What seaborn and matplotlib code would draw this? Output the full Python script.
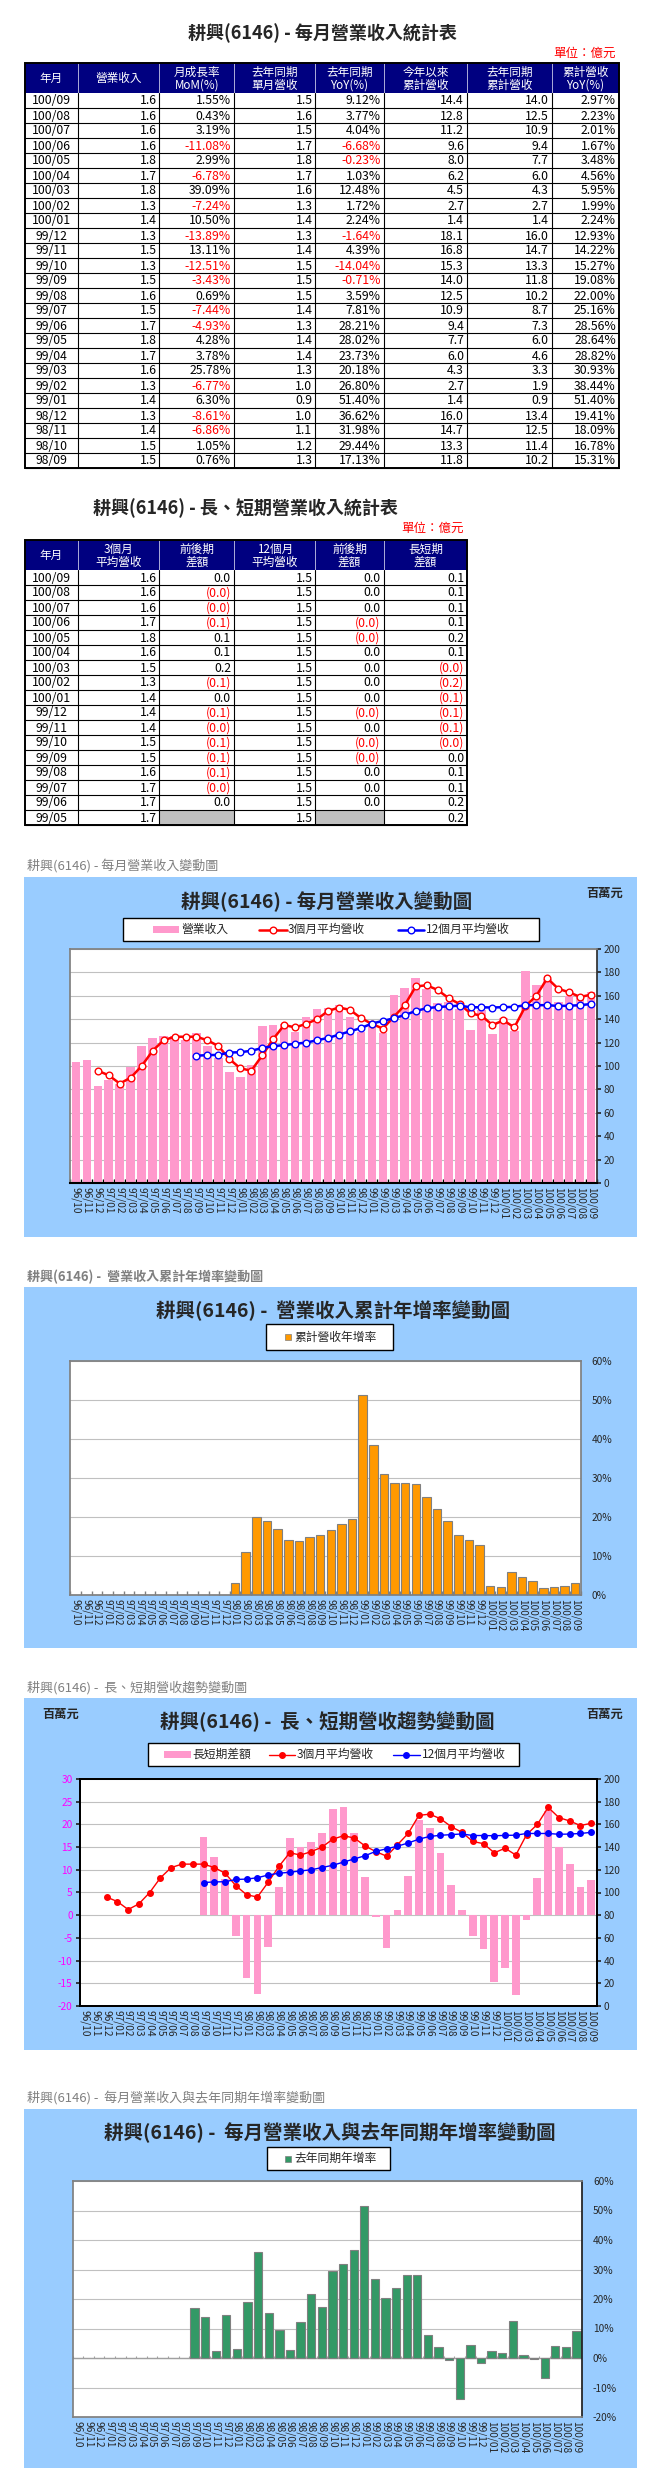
import matplotlib
matplotlib.use('Agg')
import matplotlib.pyplot as plt
import seaborn as sns
import numpy as np
import pandas as pd
from matplotlib.patches import Rectangle

# ---------------- DATA ----------------
months = ['96/10', '96/11', '96/12',
          '97/01', '97/02', '97/03', '97/04', '97/05', '97/06', '97/07', '97/08', '97/09', '97/10', '97/11', '97/12',
          '98/01', '98/02', '98/03', '98/04', '98/05', '98/06', '98/07', '98/08', '98/09', '98/10', '98/11', '98/12',
          '99/01', '99/02', '99/03', '99/04', '99/05', '99/06', '99/07', '99/08', '99/09', '99/10', '99/11', '99/12',
          '100/01', '100/02', '100/03', '100/04', '100/05', '100/06', '100/07', '100/08', '100/09']

# monthly revenue (million NT$)
revenue = [103, 105, 83,
           88, 85, 99, 117, 124, 126, 126, 122, 128, 117, 107, 95,
           91, 101, 134, 135, 136, 129, 142, 149, 150, 152, 142, 129,
           138, 128, 161, 167, 175, 166, 154, 155, 149, 131, 148, 127,
           141, 130, 181, 169, 174, 155, 160, 161, 163]

avg3 = [None, None, 96,
        92, 85, 90, 100, 113, 122, 125, 125, 125, 122, 117, 106,
        98, 96, 109, 123, 135, 133, 136, 140, 147, 150, 148, 141,
        136, 132, 142, 152, 168, 169, 165, 158, 153, 145, 143, 135,
        139, 133, 151, 160, 175, 166, 163, 159, 161]

avg12 = [None, None, None,
         None, None, None, None, None, None, None, None, 108.8, 109.3, 109.5, 111.5,
         111.8, 113, 115.4, 117, 117.8, 119, 120, 122, 124, 126.8, 129.6, 132.4,
         136.3, 138.5, 140.8, 143.6, 147, 149.4, 150.4, 151, 151.6, 150.2, 150.2, 150,
         150.3, 150.5, 152, 152, 152, 151.3, 151.5, 152, 153]

ls_diff = [None, None, None,
           None, None, None, None, None, None, None, None, 17.2, 12.8, 8.0, -4.6,
           -13.8, -17.4, -7.0, 6.2, 17.0, 15.0, 16.1, 18.2, 23.4, 23.8, 18.2, 8.4,
           -0.4, -7.2, 1.1, 8.6, 21.0, 19.3, 13.8, 6.6, 1.1, -4.6, -7.4, -14.7,
           -11.6, -17.5, -1.1, 8.2, 23.0, 15.0, 11.3, 6.2, 7.7]

cum_yoy = [None, None, None,
           None, None, None, None, None, None, None, None, None, None, None, None,
           3.2, 10.9, 20.1, 18.9, 16.9, 14.0, 13.8, 15.0, 15.31, 16.78, 18.09, 19.41,
           51.40, 38.44, 30.93, 28.82, 28.64, 28.56, 25.16, 22.00, 19.08, 15.27, 14.22, 12.93,
           2.24, 1.99, 5.95, 4.56, 3.48, 1.67, 2.01, 2.23, 2.97]

yoy = [None, None, None,
       None, None, None, None, None, None, None, None, 17.0, 14.0, 2.5, 14.7,
       3.2, 18.9, 36.1, 15.3, 9.5, 2.7, 12.3, 21.8, 17.13, 29.44, 31.98, 36.62,
       51.40, 26.80, 20.18, 23.73, 28.02, 28.21, 7.81, 3.59, -0.71, -14.04, 4.39, -1.64,
       2.24, 1.72, 12.48, 1.03, -0.23, -6.68, 4.04, 3.77, 9.12]

# table 1 (億元)
t1_month = ['100/09', '100/08', '100/07', '100/06', '100/05', '100/04', '100/03', '100/02', '100/01',
            '99/12', '99/11', '99/10', '99/09', '99/08', '99/07', '99/06', '99/05', '99/04', '99/03',
            '99/02', '99/01', '98/12', '98/11', '98/10', '98/09']
t1_rev = [1.6, 1.6, 1.6, 1.6, 1.8, 1.7, 1.8, 1.3, 1.4, 1.3, 1.5, 1.3, 1.5, 1.6, 1.5, 1.7, 1.8, 1.7, 1.6,
          1.3, 1.4, 1.3, 1.4, 1.5, 1.5]
t1_mom = [1.55, 0.43, 3.19, -11.08, 2.99, -6.78, 39.09, -7.24, 10.50, -13.89, 13.11, -12.51, -3.43,
          0.69, -7.44, -4.93, 4.28, 3.78, 25.78, -6.77, 6.30, -8.61, -6.86, 1.05, 0.76]
t1_ly = [1.5, 1.6, 1.5, 1.7, 1.8, 1.7, 1.6, 1.3, 1.4, 1.3, 1.4, 1.5, 1.5, 1.5, 1.4, 1.3, 1.4, 1.4, 1.3,
         1.0, 0.9, 1.0, 1.1, 1.2, 1.3]
t1_yoy = [9.12, 3.77, 4.04, -6.68, -0.23, 1.03, 12.48, 1.72, 2.24, -1.64, 4.39, -14.04, -0.71, 3.59,
          7.81, 28.21, 28.02, 23.73, 20.18, 26.80, 51.40, 36.62, 31.98, 29.44, 17.13]
t1_ytd = [14.4, 12.8, 11.2, 9.6, 8.0, 6.2, 4.5, 2.7, 1.4, 18.1, 16.8, 15.3, 14.0, 12.5, 10.9, 9.4, 7.7,
          6.0, 4.3, 2.7, 1.4, 16.0, 14.7, 13.3, 11.8]
t1_lyytd = [14.0, 12.5, 10.9, 9.4, 7.7, 6.0, 4.3, 2.7, 1.4, 16.0, 14.7, 13.3, 11.8, 10.2, 8.7, 7.3, 6.0,
            4.6, 3.3, 1.9, 0.9, 13.4, 12.5, 11.4, 10.2]
t1_ytdyoy = [2.97, 2.23, 2.01, 1.67, 3.48, 4.56, 5.95, 1.99, 2.24, 12.93, 14.22, 15.27, 19.08, 22.00,
             25.16, 28.56, 28.64, 28.82, 30.93, 38.44, 51.40, 19.41, 18.09, 16.78, 15.31]

# table 2 (億元)
t2_month = ['100/09', '100/08', '100/07', '100/06', '100/05', '100/04', '100/03', '100/02', '100/01',
            '99/12', '99/11', '99/10', '99/09', '99/08', '99/07', '99/06', '99/05']
t2_avg3 = [1.6, 1.6, 1.6, 1.7, 1.8, 1.6, 1.5, 1.3, 1.4, 1.4, 1.4, 1.5, 1.5, 1.6, 1.7, 1.7, 1.7]
t2_d3 = [0.0, -0.01, -0.01, -0.1, 0.1, 0.1, 0.2, -0.1, 0.0, -0.1, -0.01, -0.1, -0.1, -0.1, -0.01, 0.0, None]
t2_avg12 = [1.5] * 17
t2_d12 = [0.0, 0.0, 0.0, -0.01, -0.01, 0.0, 0.0, 0.0, 0.0, -0.01, 0.0, -0.01, -0.01, 0.0, 0.0, 0.0, None]
t2_ls = [0.1, 0.1, 0.1, 0.1, 0.2, 0.1, -0.01, -0.2, -0.1, -0.1, -0.1, -0.01, 0.0, 0.1, 0.1, 0.2, 0.2]

# ---------------- STYLE ----------------
sns.set_theme(style='ticks')
plt.rcParams['font.family'] = ['Noto Sans CJK TC', 'DejaVu Sans']
plt.rcParams['axes.unicode_minus'] = False

W, H = 661, 2480
fig = plt.figure(figsize=(W / 100, H / 100), dpi=100)
fig.patch.set_facecolor('white')
bg = fig.add_axes([0, 0, 1, 1])
bg.set_xlim(0, W)
bg.set_ylim(H, 0)
bg.axis('off')
bg.set_zorder(0)

NAVY = '#000080'
RED = '#FF0000'
BLUE = '#0000FF'
PINK = '#FF99CC'
ORANGE = '#FF9900'
GREEN = '#339966'
SKY = '#99CCFF'
GRID = '#C0C0C0'
GRAY = '#808080'
BOX_X0, BOX_X1 = 24, 637


def frect(x0, y0, x1, y1):
    return [x0 / W, 1 - y1 / H, (x1 - x0) / W, (y1 - y0) / H]


def draw_table(cols, ytop, hh, rh, headers, rows, colors):
    n = len(rows)
    x0, x1 = cols[0], cols[-1]
    bg.add_patch(Rectangle((x0, ytop), x1 - x0, hh, facecolor=NAVY, edgecolor='none', zorder=1))
    for i, h in enumerate(headers):
        cx = (cols[i] + cols[i + 1]) / 2
        bg.text(cx, ytop + hh / 2 + 0.5, h, color='white', fontsize=8.4, ha='center', va='center',
                linespacing=1.0, zorder=3)
        if i > 0:
            bg.plot([cols[i], cols[i]], [ytop, ytop + hh], color='#C8C8E8', lw=0.6, zorder=2)
    for r in range(n):
        y = ytop + hh + r * rh
        for c in range(len(cols) - 1):
            txt, col = rows[r][c], colors[r][c]
            if txt is None:
                bg.add_patch(Rectangle((cols[c], y), cols[c + 1] - cols[c], rh, facecolor='#C0C0C0',
                                       edgecolor='none', zorder=1))
                continue
            if c == 0:
                bg.text((cols[0] + cols[1]) / 2, y + rh / 2 + 0.5, txt, fontsize=8.8, ha='center',
                        va='center', color=col, zorder=3)
            else:
                bg.text(cols[c + 1] - 3, y + rh / 2 + 0.5, txt, fontsize=8.8, ha='right',
                        va='center', color=col, zorder=3)
        bg.plot([x0, x1], [y + rh, y + rh], color='black', lw=0.8, zorder=2)
    ybot = ytop + hh + n * rh
    for c in cols[1:-1]:
        bg.plot([c, c], [ytop + hh, ybot], color='black', lw=0.8, zorder=2)
    bg.add_patch(Rectangle((x0, ytop), x1 - x0, ybot - ytop, facecolor='none', edgecolor='black',
                           lw=1.4, zorder=4))


# ---------------- TABLE 1 ----------------
bg.text(322.5, 33, '耕興(6146) - 每月營業收入統計表', fontsize=13, fontweight='bold', ha='center', va='center')
bg.text(615.5, 53, '單位：億元', fontsize=9, color=RED, ha='right', va='center')
t1_headers = ['年月', '營業收入', '月成長率\nMoM(%)', '去年同期\n單月營收', '去年同期\nYoY(%)',
              '今年以來\n累計營收', '去年同期\n累計營收', '累計營收\nYoY(%)']
rows1, cols1 = [], []
for i in range(len(t1_month)):
    rows1.append([t1_month[i], f'{t1_rev[i]:.1f}', f'{t1_mom[i]:.2f}%', f'{t1_ly[i]:.1f}',
                  f'{t1_yoy[i]:.2f}%', f'{t1_ytd[i]:.1f}', f'{t1_lyytd[i]:.1f}', f'{t1_ytdyoy[i]:.2f}%'])
    cols1.append(['black', 'black', RED if t1_mom[i] < 0 else 'black', 'black',
                  RED if t1_yoy[i] < 0 else 'black', 'black', 'black', 'black'])
T_COLS = [24.5, 78.4, 159.4, 234.0, 315.4, 383.7, 467.1, 551.5, 618.9]
draw_table(T_COLS, 63, 30, 15, t1_headers, rows1, cols1)

# ---------------- TABLE 2 ----------------
bg.text(245.6, 508, '耕興(6146) - 長、短期營業收入統計表', fontsize=13, fontweight='bold', ha='center', va='center')
bg.text(463.8, 528, '單位：億元', fontsize=9, color=RED, ha='right', va='center')
t2_headers = ['年月', '3個月\n平均營收', '前後期\n差額', '12個月\n平均營收', '前後期\n差額', '長短期\n差額']


def fmt_paren(v):
    if v is None:
        return None
    return f'({abs(v):.1f})' if v < 0 else f'{v:.1f}'


rows2, cols2 = [], []
for i in range(len(t2_month)):
    rows2.append([t2_month[i], f'{t2_avg3[i]:.1f}', fmt_paren(t2_d3[i]), f'{t2_avg12[i]:.1f}',
                  fmt_paren(t2_d12[i]), fmt_paren(t2_ls[i])])
    cols2.append(['black', 'black',
                  RED if (t2_d3[i] is not None and t2_d3[i] < 0) else 'black', 'black',
                  RED if (t2_d12[i] is not None and t2_d12[i] < 0) else 'black',
                  RED if t2_ls[i] < 0 else 'black'])
draw_table(T_COLS[:7], 540, 30, 15, t2_headers, rows2, cols2)

idx = np.arange(len(months))
edges = np.arange(len(months) + 1) - 0.5


def arr(lst):
    return np.array([np.nan if v is None else v for v in lst], dtype=float)


def chart_frame(ytop, ybot, caption, cap_y, title, title_x, title_y, bold_cap=False):
    bg.text(27.4, cap_y, caption, fontsize=9.4, color=GRAY, ha='left', va='center',
            fontweight='bold' if bold_cap else 'normal')
    bg.add_patch(Rectangle((BOX_X0, ytop), BOX_X1 - BOX_X0, ybot - ytop, facecolor=SKY, edgecolor='none',
                           zorder=0))
    bg.text(title_x, title_y, title, fontsize=14, fontweight='bold', ha='center', va='center')


def style_xaxis(ax):
    ax.set_xlim(-0.5, len(months) - 0.5)
    ax.set_xticks(idx)
    ax.set_xticklabels(months, rotation=-90, fontsize=7.3, ha='center', va='top')
    ax.set_xticks(edges, minor=True)
    ax.tick_params(axis='x', which='major', length=0, pad=3, bottom=True, labelbottom=True)
    ax.tick_params(axis='x', which='minor', direction='in', length=3, color='black', bottom=True)
    ax.set_xlabel('')
    ax.set_ylabel('')


def legend_box(x0, y0, x1, y1):
    bg.add_patch(Rectangle((x0, y0), x1 - x0, y1 - y0, facecolor='white', edgecolor='black', lw=1.0,
                           zorder=5))


def legend_text(x, y, s):
    bg.text(x, y, s, fontsize=8.5, ha='left', va='center', zorder=6)


def legend_patch(x0, x1, y, color):
    bg.add_patch(Rectangle((x0, y - 3.5), x1 - x0, 7, facecolor=color, edgecolor='none', zorder=6))


def legend_line(x0, x1, y, color, lw, ms, face):
    bg.plot([x0, x1], [y, y], color=color, lw=lw, zorder=6)
    bg.plot([(x0 + x1) / 2], [y], ls='none', marker='o', ms=ms, mfc=face, mec=color, mew=1, zorder=7)


def legend_square(x, y, color):
    bg.plot([x], [y], ls='none', marker='s', ms=5, mfc=color, mec=GRAY, mew=0.5, zorder=6)


# ---------------- CHART 1 ----------------
chart_frame(877, 1237, '耕興(6146) - 每月營業收入變動圖', 866,
            '耕興(6146) - 每月營業收入變動圖', 326.7, 902)
bg.text(604.6, 893, '百萬元', fontsize=8.8, fontweight='bold', ha='center', va='center')
ax1 = fig.add_axes(frect(70.4, 949, 596.6, 1183))
ax1.set_zorder(2)
df1 = pd.DataFrame({'month': months, 'rev': revenue})
sns.barplot(data=df1, x='month', y='rev', order=months, color=PINK, saturation=1, width=0.78,
            errorbar=None, linewidth=0, ax=ax1)
ax1.plot(idx, arr(avg3), color=RED, lw=1.8, marker='o', ms=4.8, mfc='white', mec=RED, mew=1, zorder=4)
ax1.plot(idx, arr(avg12), color=BLUE, lw=1.8, marker='o', ms=4.8, mfc='white', mec=BLUE, mew=1, zorder=4)
ax1.set_ylim(0, 200)
ax1.set_yticks(range(0, 201, 20))
ax1.yaxis.tick_right()
ax1.tick_params(axis='y', labelsize=7.3, length=3, pad=2, direction='out')
ax1.grid(axis='y', color=GRID, lw=0.8)
ax1.set_axisbelow(True)
style_xaxis(ax1)
for s in ['left', 'top']:
    ax1.spines[s].set_color(GRAY)
ax1.spines['right'].set_color('#303030')
ax1.spines['bottom'].set_color('black')
ax1.spines['bottom'].set_linewidth(1.5)
legend_box(123, 918, 539, 941)
legend_patch(153, 179, 929.5, PINK)
legend_text(181, 929.5, '營業收入')
legend_line(259, 287, 929.5, RED, 1.8, 4.8, 'white')
legend_text(288, 929.5, '3個月平均營收')
legend_line(397.6, 423.7, 929.5, BLUE, 1.8, 4.8, 'white')
legend_text(426, 929.5, '12個月平均營收')

# ---------------- CHART 2 ----------------
chart_frame(1287, 1648, '耕興(6146) -  營業收入累計年增率變動圖', 1277,
            '耕興(6146) -  營業收入累計年增率變動圖', 333, 1311, bold_cap=True)
ax2 = fig.add_axes(frect(70.4, 1361, 580.5, 1595))
ax2.set_zorder(2)
df2 = pd.DataFrame({'month': months, 'v': arr(cum_yoy)})
sns.barplot(data=df2, x='month', y='v', order=months, color=ORANGE, saturation=1, width=0.8,
            errorbar=None, edgecolor=GRAY, linewidth=0.8, ax=ax2)
ax2.set_ylim(0, 60)
ax2.set_yticks(range(0, 61, 10))
ax2.set_yticklabels([f'{v}%' for v in range(0, 61, 10)])
ax2.yaxis.tick_right()
ax2.tick_params(axis='y', labelsize=7.3, length=0, pad=8)
ax2.grid(axis='y', color=GRID, lw=0.8)
ax2.set_axisbelow(True)
style_xaxis(ax2)
ax2.tick_params(axis='x', which='minor', color=GRAY)
for s in ['left', 'top', 'right', 'bottom']:
    ax2.spines[s].set_color(GRAY)
legend_box(266, 1324, 393, 1350)
legend_square(287.5, 1337, ORANGE)
legend_text(294, 1337, '累計營收年增率')

# ---------------- CHART 3 ----------------
chart_frame(1698, 2050, '耕興(6146) -  長、短期營收趨勢變動圖', 1688,
            '耕興(6146) -  長、短期營收趨勢變動圖', 327.8, 1722)
bg.text(61, 1714, '百萬元', fontsize=8.8, fontweight='bold', ha='center', va='center')
bg.text(604.6, 1714, '百萬元', fontsize=8.8, fontweight='bold', ha='center', va='center')
ax3 = fig.add_axes(frect(79.7, 1779, 596.6, 2006))
ax3.set_zorder(2)
df3 = pd.DataFrame({'month': months, 'v': arr(ls_diff)})
sns.barplot(data=df3, x='month', y='v', order=months, color=PINK, saturation=1, width=0.72,
            errorbar=None, linewidth=0, ax=ax3)
ax3.set_ylim(-20, 30)
ax3.set_yticks(range(-20, 31, 5))
ax3.tick_params(axis='y', labelsize=7.3, labelcolor='#FF00FF', length=3, pad=2, left=True)
ax3.grid(axis='y', color=GRID, lw=0.8)
ax3.set_axisbelow(True)
style_xaxis(ax3)
ax3.tick_params(axis='x', which='minor', length=0)
ax3r = ax3.twinx()
ax3r.plot(idx, arr(avg3), color=RED, lw=1.0, marker='o', ms=4, mfc=RED, mec=RED, zorder=4)
ax3r.plot(idx, arr(avg12), color=BLUE, lw=1.0, marker='o', ms=4, mfc=BLUE, mec=BLUE, zorder=4)
ax3r.set_ylim(0, 200)
ax3r.set_yticks(range(0, 201, 20))
ax3r.tick_params(axis='y', labelsize=7.3, length=3, pad=2, right=True)
ax3r.grid(False)
ax3r.set_xlim(-0.5, len(months) - 0.5)
for a in (ax3, ax3r):
    for s in ['left', 'top', 'right', 'bottom']:
        a.spines[s].set_color('black')
        a.spines[s].set_linewidth(1.4)
legend_box(148.4, 1743, 519.4, 1766)
legend_patch(164.4, 190.6, 1754.5, PINK)
legend_text(192.7, 1754.5, '長短期差額')
legend_line(269, 295, 1754.5, RED, 1.0, 4, RED)
legend_text(297, 1754.5, '3個月平均營收')
legend_line(393, 419.5, 1754.5, BLUE, 1.0, 4, BLUE)
legend_text(421.6, 1754.5, '12個月平均營收')

# ---------------- CHART 4 ----------------
chart_frame(2109, 2468, '耕興(6146) -  每月營業收入與去年同期年增率變動圖', 2098,
            '耕興(6146) -  每月營業收入與去年同期年增率變動圖', 329.9, 2133)
ax4 = fig.add_axes(frect(72.5, 2181, 581.8, 2417))
ax4.set_zorder(2)
df4 = pd.DataFrame({'month': months, 'v': arr(yoy)})
sns.barplot(data=df4, x='month', y='v', order=months, color=GREEN, saturation=1, width=0.78,
            errorbar=None, edgecolor=GRAY, linewidth=0.8, ax=ax4)
ax4.set_ylim(-20, 60)
ax4.set_yticks(range(-20, 61, 10))
ax4.set_yticklabels([f'{v}%' for v in range(-20, 61, 10)])
ax4.yaxis.tick_right()
ax4.tick_params(axis='y', labelsize=7.3, length=0, pad=8)
ax4.grid(axis='y', color=GRID, lw=0.8)
ax4.set_axisbelow(True)
ax4.axhline(0, color='#A0A0A0', lw=1, zorder=0.8)
ax4.vlines(edges, 0, 0.8, color='#A0A0A0', lw=0.8, zorder=0.7)
style_xaxis(ax4)
ax4.tick_params(axis='x', which='minor', length=0)
for s in ['left', 'top', 'bottom']:
    ax4.spines[s].set_color(GRAY)
ax4.spines['right'].set_color('#202020')
legend_box(267.3, 2147, 390.4, 2170)
legend_square(288, 2158.5, GREEN)
legend_text(294, 2158.5, '去年同期年增率')

fig.savefig('out.png', dpi=100, facecolor='white')
